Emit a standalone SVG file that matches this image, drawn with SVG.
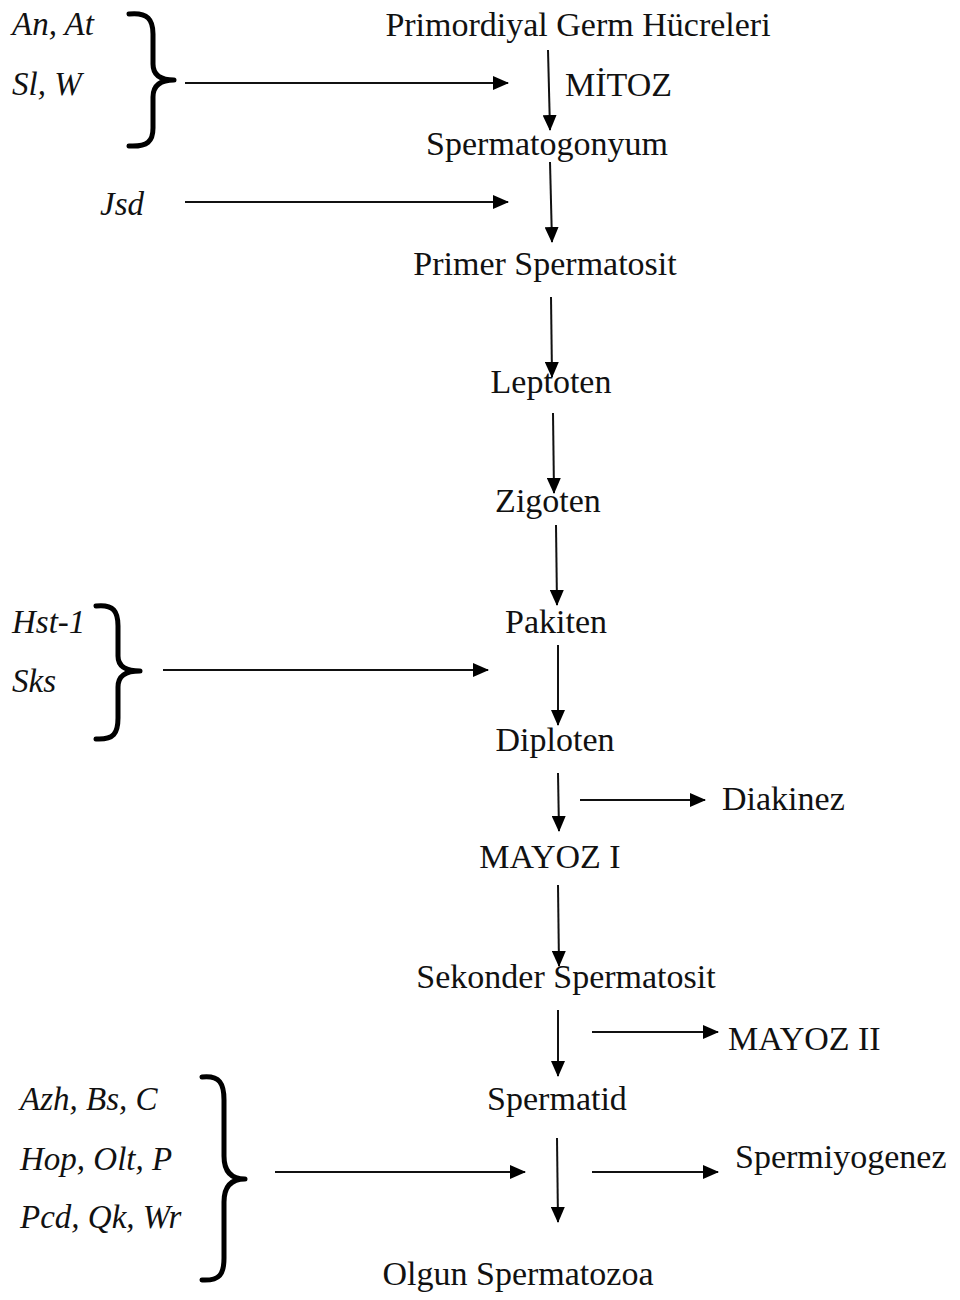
<svg xmlns="http://www.w3.org/2000/svg" width="960" height="1300" viewBox="0 0 960 1300">
<defs>
<marker id="ah" markerUnits="userSpaceOnUse" markerWidth="16" markerHeight="14" refX="15" refY="7" orient="auto">
<path d="M0,0 L16,7 L0,14 Z" fill="#000"/>
</marker>
<style>
.t{font-family:"Liberation Serif","Times New Roman",serif;font-size:34px;fill:#111}
.c{text-anchor:middle}
.i{font-family:"Liberation Serif","Times New Roman",serif;font-size:33px;font-style:italic;fill:#111}
.a{stroke:#111;stroke-width:2;fill:none;marker-end:url(#ah)}
.b{stroke:#000;stroke-width:5;fill:none;stroke-linecap:round;stroke-linejoin:round}
</style>
</defs>
<rect width="960" height="1300" fill="#fff"/>
<g id="n-pgh"><text class="t c" x="578" y="36">Primordiyal Germ Hücreleri</text></g>
<g id="n-mitoz"><text class="t" x="565" y="96">MİTOZ</text></g>
<g id="n-spg"><text class="t c" x="547" y="155">Spermatogonyum</text></g>
<g id="n-pspt"><text class="t c" x="545" y="275">Primer Spermatosit</text></g>
<g id="n-lep"><text class="t c" x="551" y="393">Leptoten</text></g>
<g id="n-zig"><text class="t c" x="548" y="512">Zigoten</text></g>
<g id="n-pak"><text class="t c" x="556" y="633">Pakiten</text></g>
<g id="n-dip"><text class="t c" x="555" y="751">Diploten</text></g>
<g id="n-dia"><text class="t" x="722" y="810">Diakinez</text></g>
<g id="n-m1"><text class="t c" x="550" y="868">MAYOZ I</text></g>
<g id="n-sspt"><text class="t c" x="566" y="988">Sekonder Spermatosit</text></g>
<g id="n-m2"><text class="t" x="728" y="1050">MAYOZ II</text></g>
<g id="n-spd"><text class="t c" x="557" y="1110">Spermatid</text></g>
<g id="n-smg"><text class="t" x="735" y="1168">Spermiyogenez</text></g>
<g id="n-olg"><text class="t c" x="518" y="1285">Olgun Spermatozoa</text></g>

<g id="g-top">
<text class="i" x="12" y="35">An, At</text>
<text class="i" x="12" y="95">Sl, W</text>
<path class="b" d="M129,14 C148,12 153,20 153,34 L153,64 C153,75 160,80 174,80 C160,80 153,86 153,97 L153,128 C153,141 148,147 129,146"/>
</g>
<g id="g-jsd"><text class="i" x="100" y="215">Jsd</text></g>
<g id="g-mid">
<text class="i" x="12" y="633">Hst-1</text>
<text class="i" x="12" y="692">Sks</text>
<path class="b" d="M96,606 C114,604 118,612 118,626 L118,656 C118,666 125,671 140,671 C125,671 118,676 118,687 L118,718 C118,733 114,740 96,739"/>
</g>
<g id="g-bot">
<text class="i" x="20" y="1110">Azh, Bs, C</text>
<text class="i" x="20" y="1170">Hop, Olt, P</text>
<text class="i" x="20" y="1228">Pcd, Qk, Wr</text>
<path class="b" d="M202,1077 C220,1075 224,1084 224,1100 L224,1156 C224,1170 230,1179 245,1179 C230,1179 224,1188 224,1202 L224,1258 C224,1274 220,1281 202,1280"/>
</g>

<g id="connectors">
<line class="a" x1="185" y1="83" x2="508" y2="83"/>
<line class="a" x1="185" y1="202" x2="508" y2="202"/>
<line class="a" x1="163" y1="670" x2="488" y2="670"/>
<line class="a" x1="580" y1="800" x2="705" y2="800"/>
<line class="a" x1="592" y1="1032" x2="718" y2="1032"/>
<line class="a" x1="275" y1="1172" x2="525" y2="1172"/>
<line class="a" x1="592" y1="1172" x2="718" y2="1172"/>
<line class="a" x1="548" y1="50" x2="550" y2="130"/>
<line class="a" x1="550" y1="162" x2="552" y2="242"/>
<line class="a" x1="551" y1="297" x2="552" y2="377"/>
<line class="a" x1="553" y1="413" x2="554" y2="493"/>
<line class="a" x1="556" y1="525" x2="557" y2="605"/>
<line class="a" x1="558" y1="645" x2="558" y2="725"/>
<line class="a" x1="558" y1="773" x2="559" y2="831"/>
<line class="a" x1="558" y1="885" x2="559" y2="966"/>
<line class="a" x1="558" y1="1010" x2="558" y2="1076"/>
<line class="a" x1="557" y1="1138" x2="558" y2="1222"/>
</g>
</svg>
